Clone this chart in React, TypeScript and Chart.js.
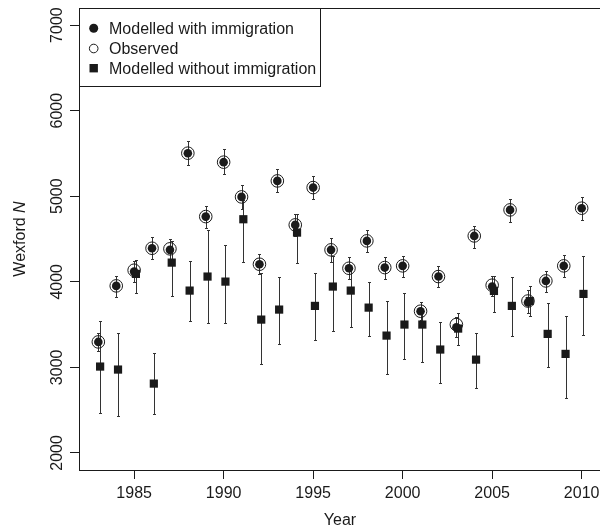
import React, { useEffect, useRef } from "react";
import { Chart, registerables } from "chart.js";

Chart.register(...registerables);

// ---------------- data ----------------
const years = [
  1983, 1984, 1985, 1986, 1987, 1988, 1989, 1990, 1991, 1992, 1993, 1994, 1995, 1996,
  1997, 1998, 1999, 2000, 2001, 2002, 2003, 2004, 2005, 2006, 2007, 2008, 2009, 2010,
];

const withImmMean = [
  3297, 3952, 4119, 4392, 4373, 5503, 4762, 5398, 4992, 4205, 5179, 4665, 5101, 4373,
  4158, 4478, 4166, 4186, 3656, 4061, 3469, 4536, 3944, 4840, 3757, 4010, 4186, 4860,
];
const withImmLow = [
  3190, 3827, 4000, 4264, 4250, 5363, 4626, 5261, 4848, 4092, 5047, 4540, 4965, 4236,
  4030, 4346, 4034, 4061, 3555, 3937, 3360, 4400, 3830, 4696, 3640, 3885, 4061, 4723,
];
const withImmHigh = [
  3400, 4069, 4240, 4528, 4500, 5650, 4887, 5550, 5129, 4326, 5316, 4790, 5241, 4509,
  4287, 4606, 4294, 4306, 3761, 4186, 3593, 4653, 4069, 4965, 3905, 4131, 4314, 4996,
];

const observed = [
  3297, 3952, 4135, 4392, 4385, 5503, 4762, 5398, 4992, 4205, 5179, 4665, 5101, 4373,
  4158, 4478, 4166, 4186, 3656, 4061, 3500, 4536, 3960, 4840, 3775, 4010, 4186, 4860,
];

const withoutImmMean = [
  3009, 2974, 4092, 2810, 4224, 3897, 4061, 4002, 4731, 3558, 3675, 4575, 3718, 3944,
  3897, 3698, 3371, 3500, 3500, 3208, 3453, 3090, 3893, 3718, 3775, 3391, 3157, 3858,
];
const withoutImmLow = [
  2471, 2436, 3867, 2459, 3835, 3539, 3523, 3523, 4236, 3040, 3270, 4224, 3321, 3430,
  3473, 3371, 2920, 3102, 3064, 2822, 3260, 2763, 3651, 3368, 3600, 3009, 2639, 3380,
];
const withoutImmHigh = [
  3547, 3403, 4256, 3165, 4480, 4248, 4600, 4431, 4950, 4100, 4054, 4790, 4100, 4300,
  4150, 4002, 3777, 3867, 3650, 3527, 3640, 3403, 4069, 4061, 3950, 3750, 3605, 4303,
];

const xTickValues = [1985, 1990, 1995, 2000, 2005, 2010];
const yTickValues = [2000, 3000, 4000, 5000, 6000, 7000];

const labelWith = "Modelled with immigration";
const labelObserved = "Observed";
const labelWithout = "Modelled without immigration";
const xTitle = "Year";
const yTitleMain = "Wexford ";
const yTitleItalic = "N";

const SQUARE_SHIFT = 0.1; // small horizontal dodge of the square series (years)

// ---------------- styling ----------------
const FONT = '"Liberation Sans", Arial, Helvetica, sans-serif';
const INK = "#1a1a1a";
const BAR = "#333333";

const errorBars: Record<string, { low: number[]; high: number[] }> = {
  [labelWith]: { low: withImmLow, high: withImmHigh },
  [labelWithout]: { low: withoutImmLow, high: withoutImmHigh },
};

const overlayPlugin = {
  id: "overlay",
  beforeDatasetsDraw(chart: any) {
    const { ctx } = chart;
    const xs = chart.scales.x;
    const ys = chart.scales.y;
    ctx.save();
    ctx.strokeStyle = BAR;
    ctx.lineWidth = 1;
    chart.data.datasets.forEach((ds: any) => {
      const eb = errorBars[ds.label];
      if (!eb) return;
      ds.data.forEach((p: any, i: number) => {
        const x = Math.round(xs.getPixelForValue(p.x)) + 0.5;
        const y1 = Math.round(ys.getPixelForValue(eb.low[i])) + 0.5;
        const y2 = Math.round(ys.getPixelForValue(eb.high[i])) + 0.5;
        ctx.beginPath();
        ctx.moveTo(x, y1);
        ctx.lineTo(x, y2);
        ctx.moveTo(x - 1.5, y1);
        ctx.lineTo(x + 1.5, y1);
        ctx.moveTo(x - 1.5, y2);
        ctx.lineTo(x + 1.5, y2);
        ctx.stroke();
      });
    });
    ctx.restore();
  },
  afterDraw(chart: any) {
    const { ctx, chartArea } = chart;
    const xs = chart.scales.x;
    const ys = chart.scales.y;
    ctx.save();

    // plot frame
    ctx.strokeStyle = INK;
    ctx.lineWidth = 1;
    ctx.strokeRect(
      Math.round(chartArea.left) + 0.5,
      Math.round(chartArea.top) + 0.5,
      Math.round(chartArea.right - chartArea.left),
      Math.round(chartArea.bottom - chartArea.top)
    );

    ctx.fillStyle = INK;
    ctx.font = `16px ${FONT}`;

    // x tick labels
    ctx.textAlign = "center";
    ctx.textBaseline = "alphabetic";
    xTickValues.forEach((v) => {
      ctx.fillText(String(v), xs.getPixelForValue(v), 498);
    });

    // y tick labels (rotated)
    yTickValues.forEach((v) => {
      ctx.save();
      ctx.translate(62, ys.getPixelForValue(v));
      ctx.rotate(-Math.PI / 2);
      ctx.textAlign = "center";
      ctx.textBaseline = "alphabetic";
      ctx.fillText(String(v), 0, 0);
      ctx.restore();
    });

    // x title
    ctx.textAlign = "center";
    ctx.fillText(xTitle, (chartArea.left + chartArea.right) / 2, 525);

    // y title (rotated, italic N)
    ctx.save();
    ctx.translate(25, (chartArea.top + chartArea.bottom) / 2);
    ctx.rotate(-Math.PI / 2);
    ctx.font = `16px ${FONT}`;
    const w1 = ctx.measureText(yTitleMain).width;
    ctx.font = `italic 16px ${FONT}`;
    const w2 = ctx.measureText(yTitleItalic).width;
    const start = -(w1 + w2) / 2;
    ctx.textAlign = "left";
    ctx.font = `16px ${FONT}`;
    ctx.fillText(yTitleMain, start, 0);
    ctx.font = `italic 16px ${FONT}`;
    ctx.fillText(yTitleItalic, start + w1, 0);
    ctx.restore();

    // legend
    const lx = Math.round(chartArea.left) + 0.5;
    const ly = Math.round(chartArea.top) + 0.5;
    const lw = 241;
    const lh = 78;
    ctx.fillStyle = "#ffffff";
    ctx.fillRect(lx, ly, lw, lh);
    ctx.strokeStyle = INK;
    ctx.strokeRect(lx, ly, lw, lh);

    const mx = 93.7;
    const rows = [28.3, 48.5, 68.2];
    // filled circle
    ctx.fillStyle = INK;
    ctx.beginPath();
    ctx.arc(mx, rows[0], 4.5, 0, Math.PI * 2);
    ctx.fill();
    // open circle
    ctx.beginPath();
    ctx.arc(mx, rows[1], 4.3, 0, Math.PI * 2);
    ctx.lineWidth = 1;
    ctx.stroke();
    // square
    ctx.fillRect(mx - 4.2, rows[2] - 4.2, 8.4, 8.4);

    ctx.font = `16px ${FONT}`;
    ctx.textAlign = "left";
    ctx.textBaseline = "alphabetic";
    const labels = [labelWith, labelObserved, labelWithout];
    labels.forEach((t, i) => ctx.fillText(t, 109, rows[i] + 5.8));

    ctx.restore();
  },
};

export default function App() {
  const canvasRef = useRef<HTMLCanvasElement | null>(null);

  useEffect(() => {
    if (!canvasRef.current) return;
    const chart = new Chart(canvasRef.current, {
      type: "scatter",
      data: {
        datasets: [
          {
            label: labelWith,
            data: years.map((y, i) => ({ x: y, y: withImmMean[i] })),
            pointStyle: "circle",
            pointRadius: 4.3,
            pointBackgroundColor: INK,
            pointBorderWidth: 0,
            pointBorderColor: INK,
            order: 3,
          },
          {
            label: labelObserved,
            data: years.map((y, i) => ({ x: y, y: observed[i] })),
            pointStyle: "circle",
            pointRadius: 6.3,
            pointBackgroundColor: "rgba(0,0,0,0)",
            pointBorderColor: INK,
            pointBorderWidth: 1,
            order: 2,
          },
          {
            label: labelWithout,
            data: years.map((y, i) => ({ x: y + SQUARE_SHIFT, y: withoutImmMean[i] })),
            pointStyle: "rect",
            pointRadius: 5.8,
            pointBackgroundColor: INK,
            pointBorderWidth: 0,
            pointBorderColor: INK,
            order: 1,
          },
        ],
      },
      options: {
        responsive: false,
        animation: false,
        devicePixelRatio: 1,
        layout: { autoPadding: false, padding: { top: 8, right: 3, left: 0, bottom: 0 } },
        plugins: {
          legend: { display: false },
          tooltip: { enabled: false },
        },
        scales: {
          x: {
            type: "linear",
            min: 1981.92,
            max: 2011.08,
            afterBuildTicks: (scale: any) => {
              scale.ticks = xTickValues.map((v) => ({ value: v }));
            },
            afterFit: (scale: any) => {
              scale.height = 59;
            },
            ticks: { display: false },
            grid: {
              drawOnChartArea: false,
              drawTicks: true,
              tickLength: 9,
              color: INK,
              lineWidth: 1,
            },
            border: { display: true, color: INK, width: 1 },
          },
          y: {
            type: "linear",
            min: 1800,
            max: 7200,
            afterBuildTicks: (scale: any) => {
              scale.ticks = yTickValues.map((v) => ({ value: v }));
            },
            afterFit: (scale: any) => {
              scale.width = 79;
            },
            ticks: { display: false },
            grid: {
              drawOnChartArea: false,
              drawTicks: true,
              tickLength: 9,
              color: INK,
              lineWidth: 1,
            },
            border: { display: true, color: INK, width: 1 },
          },
        },
      },
      plugins: [overlayPlugin],
    });
    return () => chart.destroy();
  }, []);

  return (
    <div
      style={{
        position: "absolute",
        left: 0,
        top: 0,
        width: 600,
        height: 529,
        overflow: "hidden",
        background: "#ffffff",
      }}
    >
      <canvas ref={canvasRef} width={604} height={529} style={{ display: "block" }} />
    </div>
  );
}
